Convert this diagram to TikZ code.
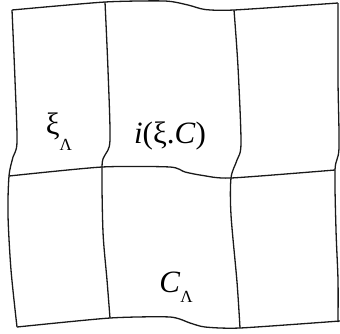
\documentclass[tikz,border=0pt]{standalone}
\usepackage{fontspec}
\setmainfont{Liberation Serif}
\usetikzlibrary{positioning}

\begin{document}
\begin{tikzpicture}[
    x=1pt, y=-1pt,
    rule/.style={line width=1.3pt, black!90, line join=round},
    lbl/.style={inner sep=0pt, anchor=base, font=\fontsize{31}{31}\selectfont},
  ]
  \useasboundingbox (0,0) rectangle (340,333);

  % outer border and middle line
  \draw[rule] plot[smooth, tension=0.4] coordinates
    {(12,10) (105,2) (165,1) (188,5) (205,9.5) (234,10) (338,3)};
  \draw[rule] plot[smooth, tension=0.4] coordinates
    {(9,176) (102,167) (170,167) (185,172) (203,175.5) (231,178) (335,170)};
  \draw[rule] plot[smooth, tension=0.4] coordinates
    {(17,327) (110,318) (170,317) (190,323) (205,327) (240,328) (340,321)};

  % vertical lines
  \draw[rule] plot[smooth, tension=0.5] coordinates
    {(12,10) (15,80) (17,142) (13,157) (9,176) (8,215) (11,270) (17,327)};
  \draw[rule] plot[smooth, tension=0.5] coordinates
    {(105,2) (108,70) (110,140) (105,155) (102,167) (103,232) (107,280) (110,318)};
  \draw[rule] plot[smooth, tension=0.5] coordinates
    {(234,10) (238,67) (241,143) (237,160) (231,178) (231,215) (237,282) (240,328)};
  \draw[rule] plot[smooth, tension=0.5] coordinates
    {(338,3) (338,80) (339,148) (335,170) (336,230) (338,280) (338,322)};

  % labels
  \node[lbl] (xi) at (59,134)
    {ξ\raisebox{-16pt}{\fontsize{17}{17}\selectfont Λ}};
  \node[lbl] (ixc) at (170,143) {\textit{i}(ξ.\textit{C})};
  \node[lbl] (cl) at (176,292)
    {\textit{C}\raisebox{-10pt}{\fontsize{17}{17}\selectfont Λ}};
\end{tikzpicture}
\end{document}
